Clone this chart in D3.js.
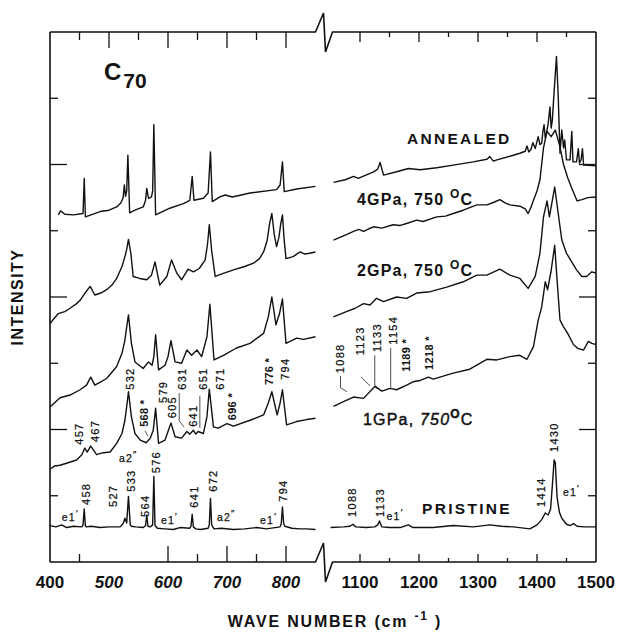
<!DOCTYPE html>
<html>
<head>
<meta charset="utf-8">
<script src="https://cdn.jsdelivr.net/npm/d3@7"></script>
<style>
  body { margin: 0; background: #fff; }
  text { font-family: "Liberation Sans", Arial, sans-serif; fill: #111; }
</style>
</head>
<body>
<script>
// spectra: [wave number, intensity (arbitrary units)]
const annealedLeft = [[414,5.24],[418,5.30],[425,5.25],[440,5.24],[456,5.26],[458,5.79],[460,5.21],[485,5.29],[500,5.31],[513,5.36],[520,5.42],[524,5.50],[526,5.69],[528,5.52],[530,5.60],[532,6.14],[535,5.27],[544,5.31],[558,5.36],[562,5.46],[564,5.64],[567,5.49],[572,5.51],[574,5.60],[576,6.60],[579,5.24],[603,5.34],[626,5.41],[637,5.46],[641,5.82],[644,5.46],[660,5.49],[668,5.57],[672,6.19],[675,5.44],[688,5.51],[697,5.54],[709,5.51],[739,5.57],[784,5.62],[790,5.69],[794,6.04],[797,5.59],[818,5.63],[850,5.67]];
const annealedRight = [[1055,5.73],[1075,5.77],[1089,5.82],[1097,5.79],[1123,5.89],[1130,5.93],[1134,6.03],[1140,5.84],[1162,5.89],[1182,5.94],[1202,5.92],[1230,5.95],[1258,5.99],[1292,6.04],[1315,6.08],[1320,6.12],[1326,6.05],[1332,6.07],[1360,6.14],[1371,6.17],[1380,6.20],[1383,6.28],[1386,6.19],[1390,6.23],[1393,6.33],[1397,6.24],[1402,6.42],[1405,6.30],[1408,6.32],[1410,6.50],[1412,6.60],[1414,6.40],[1416,6.47],[1419,6.62],[1422,6.87],[1424,6.55],[1426,6.67],[1429,7.10],[1433,7.63],[1436,7.02],[1439,6.17],[1442,6.52],[1445,6.25],[1447,6.37],[1450,6.07],[1456,6.07],[1459,6.50],[1461,6.04],[1467,6.04],[1470,6.24],[1472,6.02],[1475,6.08],[1477,6.24],[1479,5.99],[1500,5.98]];

const gpa4Left = [[400,3.60],[414,3.75],[425,3.78],[434,3.83],[445,3.90],[451,3.95],[461,4.08],[468,4.16],[476,4.03],[486,4.06],[496,4.11],[505,4.18],[513,4.28],[522,4.46],[527,4.61],[530,4.72],[533,4.87],[537,4.66],[541,4.31],[552,4.28],[564,4.26],[572,4.33],[578,4.53],[586,4.18],[598,4.31],[606,4.56],[615,4.36],[623,4.26],[634,4.42],[643,4.38],[653,4.43],[663,4.56],[667,4.80],[670,5.09],[674,4.70],[680,4.31],[695,4.36],[711,4.41],[730,4.46],[745,4.51],[755,4.58],[762,4.68],[768,4.85],[772,5.10],[776,5.26],[780,4.95],[784,4.76],[788,4.90],[791,5.10],[794,5.24],[797,4.85],[800,4.58],[812,4.61],[824,4.68],[831,4.65],[840,4.66],[850,4.68]];
const gpa4Right = [[1055,4.86],[1066,4.90],[1077,4.94],[1089,4.99],[1098,5.02],[1106,4.99],[1115,5.03],[1123,5.06],[1137,5.04],[1156,5.09],[1168,5.08],[1179,5.11],[1196,5.16],[1207,5.14],[1230,5.21],[1245,5.22],[1258,5.26],[1275,5.31],[1298,5.39],[1315,5.39],[1327,5.43],[1337,5.47],[1346,5.42],[1354,5.39],[1371,5.37],[1380,5.33],[1385,5.26],[1390,5.36],[1394,5.46],[1400,5.60],[1405,5.77],[1411,6.25],[1417,6.50],[1424,6.42],[1431,6.52],[1438,6.30],[1445,6.00],[1452,5.80],[1460,5.62],[1468,5.45],[1476,5.47],[1486,5.50],[1500,5.51]];

const gpa2Left = [[400,2.34],[417,2.48],[434,2.52],[451,2.60],[462,2.67],[469,2.79],[476,2.67],[486,2.72],[496,2.77],[513,2.95],[522,3.15],[527,3.35],[530,3.55],[533,3.73],[538,3.30],[544,3.02],[558,2.92],[567,3.02],[573,2.97],[576,3.10],[579,3.43],[584,2.90],[595,2.97],[600,3.10],[605,3.34],[612,3.02],[623,3.00],[632,3.20],[640,3.12],[649,3.20],[657,3.10],[666,3.40],[671,3.89],[678,3.05],[694,3.12],[716,3.23],[739,3.30],[762,3.45],[770,3.70],[776,4.00],[783,3.58],[789,3.75],[794,3.97],[800,3.30],[818,3.38],[830,3.36],[850,3.40]];
const gpa2Right = [[1055,3.70],[1077,3.78],[1092,3.83],[1106,3.90],[1117,3.88],[1128,3.98],[1140,3.93],[1162,4.00],[1179,3.98],[1196,4.06],[1219,4.08],[1247,4.15],[1275,4.23],[1298,4.33],[1315,4.33],[1337,4.42],[1354,4.33],[1371,4.28],[1385,4.13],[1397,4.31],[1405,4.66],[1411,5.21],[1417,5.45],[1421,5.21],[1430,5.66],[1436,5.26],[1442,4.86],[1450,4.66],[1467,4.41],[1476,4.31],[1484,4.31],[1493,4.38],[1500,4.36]];

const gpa1Left = [[400,1.40],[408,1.45],[417,1.46],[428,1.49],[445,1.54],[454,1.62],[459,1.72],[463,1.66],[469,1.75],[479,1.62],[490,1.65],[502,1.66],[513,1.79],[522,1.94],[527,2.14],[530,2.35],[533,2.57],[538,2.19],[544,1.94],[553,1.84],[563,1.80],[570,1.87],[575,1.99],[579,2.32],[584,1.79],[595,1.84],[600,1.97],[605,2.10],[612,1.89],[623,1.87],[632,1.97],[637,1.93],[643,1.99],[647,1.93],[651,1.97],[660,1.94],[666,2.19],[670,2.61],[677,2.04],[685,2.02],[700,2.09],[711,2.05],[739,2.14],[762,2.22],[770,2.40],[776,2.57],[785,2.22],[790,2.40],[794,2.60],[801,2.07],[818,2.12],[835,2.15],[850,2.17]];
const gpa1Right = [[1055,2.35],[1072,2.42],[1089,2.49],[1106,2.47],[1125,2.65],[1137,2.58],[1151,2.62],[1162,2.60],[1179,2.67],[1190,2.72],[1202,2.74],[1216,2.79],[1224,2.76],[1258,2.85],[1286,2.91],[1315,3.06],[1332,3.05],[1354,3.10],[1371,3.12],[1383,3.06],[1394,3.25],[1402,3.65],[1408,3.85],[1414,4.23],[1418,4.11],[1424,4.40],[1430,4.78],[1434,4.26],[1439,3.65],[1445,3.55],[1452,3.45],[1462,3.28],[1470,3.22],[1479,3.20],[1487,3.33],[1493,3.30],[1500,3.28]];

const pristineLeft = [[400,0.55],[410,0.53],[420,0.56],[428,0.52],[440,0.54],[454,0.53],[456,0.56],[458,0.80],[460,0.54],[462,0.53],[470,0.54],[485,0.52],[500,0.53],[519,0.53],[524,0.58],[527,0.66],[530,0.59],[533,0.99],[536,0.56],[538,0.54],[545,0.53],[558,0.52],[562,0.55],[564,0.71],[566,0.54],[570,0.53],[574,0.56],[576,1.29],[578,0.55],[582,0.51],[595,0.50],[609,0.49],[620,0.52],[637,0.51],[639,0.54],[641,0.72],[643,0.53],[647,0.50],[655,0.49],[668,0.51],[670,0.56],[672,0.96],[674,0.56],[678,0.50],[690,0.51],[711,0.49],[730,0.50],[750,0.52],[767,0.50],[790,0.53],[792,0.58],[794,0.83],[796,0.58],[798,0.54],[810,0.51],[824,0.50],[835,0.50],[850,0.49]];
const pristineRight = [[1050,0.52],[1072,0.53],[1083,0.54],[1088,0.57],[1093,0.53],[1110,0.52],[1125,0.53],[1130,0.56],[1133,0.62],[1137,0.53],[1150,0.52],[1168,0.52],[1182,0.56],[1190,0.52],[1224,0.52],[1258,0.55],[1292,0.53],[1320,0.56],[1340,0.54],[1360,0.53],[1388,0.50],[1400,0.56],[1408,0.64],[1414,0.74],[1419,0.71],[1423,0.80],[1426,1.15],[1429,1.54],[1431,1.50],[1434,0.98],[1438,0.75],[1442,0.66],[1450,0.57],[1456,0.55],[1462,0.58],[1468,0.54],[1480,0.53],[1500,0.53]];

// axis
const leftTickLabels = [400, 500, 600, 700, 800];
const rightTickLabels = [1100, 1200, 1300, 1400, 1500];
const leftTopTicks = [450, 500, 550, 600, 650, 700, 750, 800];
const leftBottomTicks = [450, 600, 650, 700, 750, 800];
const rightTicks = [1100, 1150, 1200, 1250, 1300, 1350, 1400, 1450];
const yTicks = [1, 2, 3, 4, 5, 6, 7];

// peak labels: [text, wave number, intensity at foot of label]
const pristineLeftLabels = [["458",461,0.86],["527",506,0.83],["533",537,1.06],["564",561,0.68],["576",580,1.34],["641",644,0.82],["672",676,1.06],["794",795,0.91]];
const pristineRightLabels = [["1088",1086,0.68],["1133",1134,0.68],["1414",1406,0.83],["1430",1429,1.66]];
const gpa1LeftLabels = [["457",449,1.77],["467",476,1.81],["532",536,2.60],["579",591,2.40],["605",607,2.17],["631",623,2.60],["641",642,2.04],["651",659,2.60],["671",688,2.60],["794",798,2.75]];
const gpa1LeftStarred = [["568 *",559,2.04],["696 *",708,2.14],["776 *",771,2.67]];
const gpa1RightLabels = [["1088",1067,2.85],["1123",1100,3.12],["1133",1129,3.17],["1154",1156,3.28]];
const gpa1RightStarred = [["1189 *",1178,2.87],["1218 *",1217,2.90]];

// symmetry labels: [name, primes, wave number, intensity]
const modeLeftLabels = [["e1","′",420,0.62],["a2","″",517,1.51],["e1","′",588,0.57],["a2","″",683,0.62],["e1","′",756,0.57]];
const modeRightLabels = [["e1","′",1145,0.63],["e1","′",1444,1.00]];

// leader lines
const leadersLeft = [[[619,2.55],[619,2.13],[627,2.04]], [[654,2.51],[654,2.02]], [[561,1.98],[566,1.90]]];
const leadersRight = [[[1067,2.81],[1067,2.63],[1078,2.57]], [[1102,2.79],[1117,2.66]], [[1125,3.12],[1125,2.67],[1134,2.60]], [[1152,3.23],[1152,2.63]]];

const width = 617, height = 632;
const svg = d3.select("body").append("svg")
    .attr("width", width)
    .attr("height", height);

const xLeft = d3.scaleLinear().domain([400, 850]).range([50, 315.5]);
const xRight = d3.scaleLinear().domain([1050, 1500]).range([330.5, 596]);
const y = d3.scaleLinear().domain([0, 8]).range([562, 32]);
const yTop = y(8), yBottom = y(0);

// frame
const frame = svg.append("g").attr("stroke", "#111").attr("stroke-width", 1.6).attr("fill", "none");
frame.append("line").attr("x1", xLeft(400)).attr("x2", xLeft(400)).attr("y1", yTop).attr("y2", yBottom);
frame.append("line").attr("x1", xRight(1500)).attr("x2", xRight(1500)).attr("y1", yTop).attr("y2", yBottom);
[yTop, yBottom].forEach(yy => {
  const bx = xLeft(850);
  frame.append("path").attr("d", d3.line()([
    [xLeft(400), yy], [bx, yy], [bx + 8, yy - 19], [bx + 10, yy + 20], [bx + 17, yy], [xRight(1500), yy]
  ]));
});

// ticks
const ticks = svg.append("g").attr("stroke", "#111").attr("stroke-width", 1.3);
ticks.selectAll(".tl").data(leftTopTicks).enter().append("line")
    .attr("x1", d => xLeft(d)).attr("x2", d => xLeft(d))
    .attr("y1", yTop).attr("y2", d => yTop + (d % 100 === 0 ? 16 : 8));
ticks.selectAll(".bl").data(leftBottomTicks).enter().append("line")
    .attr("x1", d => xLeft(d)).attr("x2", d => xLeft(d))
    .attr("y1", yBottom).attr("y2", d => yBottom - (d % 100 === 0 ? 16 : 8));
ticks.selectAll(".tr").data(rightTicks).enter().append("line")
    .attr("x1", d => xRight(d)).attr("x2", d => xRight(d))
    .attr("y1", yTop).attr("y2", d => yTop + (d % 100 === 0 ? 10 : 5));
ticks.selectAll(".br").data(rightTicks).enter().append("line")
    .attr("x1", d => xRight(d)).attr("x2", d => xRight(d))
    .attr("y1", yBottom).attr("y2", d => yBottom - (d % 100 === 0 ? 8 : 4));
ticks.selectAll(".yl").data(yTicks).enter().append("line")
    .attr("x1", xLeft(400)).attr("x2", d => xLeft(400) + (d % 2 === 0 ? 17 : 8))
    .attr("y1", d => y(d)).attr("y2", d => y(d));
ticks.selectAll(".yr").data(yTicks).enter().append("line")
    .attr("x1", xRight(1500)).attr("x2", d => xRight(1500) - (d % 2 === 0 ? 17 : 8))
    .attr("y1", d => y(d)).attr("y2", d => y(d));

// tick labels
svg.selectAll(".xl").data(leftTickLabels).enter().append("text")
    .attr("x", d => xLeft(d)).attr("y", 588)
    .attr("text-anchor", "middle")
    .attr("font-size", 17).attr("font-weight", "bold")
    .attr("font-style", d => d === 400 ? "normal" : "italic")
    .text(d => d);
svg.selectAll(".xr").data(rightTickLabels).enter().append("text")
    .attr("x", d => xRight(d)).attr("y", 588)
    .attr("text-anchor", "middle")
    .attr("font-size", 17).attr("font-weight", "bold")
    .text(d => d);

// spectra
const traces = [
  [annealedLeft, xLeft], [annealedRight, xRight],
  [gpa4Left, xLeft], [gpa4Right, xRight],
  [gpa2Left, xLeft], [gpa2Right, xRight],
  [gpa1Left, xLeft], [gpa1Right, xRight],
  [pristineLeft, xLeft], [pristineRight, xRight]
];
svg.append("g").selectAll("path").data(traces).enter().append("path")
    .attr("d", d => d3.line().x(p => d[1](p[0])).y(p => y(p[1]))(d[0]))
    .attr("fill", "none").attr("stroke", "#111").attr("stroke-width", 1.4)
    .attr("stroke-linejoin", "round");

// leader lines
const leaders = svg.append("g").attr("fill", "none").attr("stroke", "#222").attr("stroke-width", 0.8);
leadersLeft.forEach(l => leaders.append("path").attr("d", d3.line().x(p => xLeft(p[0])).y(p => y(p[1]))(l)));
leadersRight.forEach(l => leaders.append("path").attr("d", d3.line().x(p => xRight(p[0])).y(p => y(p[1]))(l)));

// vertical peak labels
function peakLabels(list, sx, bold) {
  svg.append("g").selectAll("text").data(list).enter().append("text")
      .attr("transform", d => `translate(${sx(d[1])},${y(d[2])}) rotate(-90)`)
      .attr("dy", "0.36em")
      .attr("font-size", 11)
      .attr("font-weight", bold ? "bold" : "normal")
      .attr("letter-spacing", bold ? 0.3 : 1.3)
      .attr("stroke", "#111").attr("stroke-width", bold ? 0 : 0.25)
      .text(d => d[0]);
}
peakLabels(pristineLeftLabels, xLeft, false);
peakLabels(pristineRightLabels, xRight, false);
peakLabels(gpa1LeftLabels, xLeft, false);
peakLabels(gpa1RightLabels, xRight, false);
peakLabels(gpa1LeftStarred, xLeft, true);
peakLabels(gpa1RightStarred, xRight, true);

function modeLabels(list, sx) {
  const t = svg.append("g").selectAll("text").data(list).enter().append("text")
      .attr("x", d => sx(d[2])).attr("y", d => y(d[3]))
      .attr("font-size", 10.5).attr("letter-spacing", 1.2)
      .attr("stroke", "#111").attr("stroke-width", 0.25);
  t.append("tspan").text(d => d[0]);
  t.append("tspan").attr("dy", -5).attr("font-size", 9).text(d => d[1]);
}
modeLabels(modeLeftLabels, xLeft);
modeLabels(modeRightLabels, xRight);

// spectrum names
svg.append("text").attr("x", 407).attr("y", 144)
    .attr("font-size", 15.5).attr("font-weight", "bold").attr("letter-spacing", 2.3)
    .text("ANNEALED");
svg.append("text").attr("x", 422).attr("y", 514)
    .attr("font-size", 15.5).attr("font-weight", "bold").attr("letter-spacing", 2.3)
    .text("PRISTINE");

function condLabel(txt, yy) {
  const t = svg.append("text").attr("x", 357).attr("y", yy)
      .attr("font-size", 16).attr("font-weight", "bold").attr("letter-spacing", 1.2);
  t.append("tspan").text(txt);
  t.append("tspan").attr("dy", -7).attr("font-size", 12).text("O");
  t.append("tspan").attr("dy", 7).text("C");
}
condLabel("4GPa, 750 ", 205);
condLabel("2GPa, 750 ", 276);

const c1 = svg.append("text").attr("x", 363).attr("y", 425)
    .attr("font-size", 16).attr("letter-spacing", 1.2)
    .attr("stroke", "#111").attr("stroke-width", 0.45);
c1.append("tspan").text("1GPa, ");
c1.append("tspan").attr("font-style", "italic").text("750");
c1.append("tspan").attr("dy", -7).attr("font-size", 12).attr("font-weight", "bold").text("O");
c1.append("tspan").attr("dy", 7).text("C");

// C70
const c70 = svg.append("text").attr("x", 104).attr("y", 80).attr("font-weight", "bold");
c70.append("tspan").attr("font-size", 24).text("C");
c70.append("tspan").attr("font-size", 21).attr("dy", 8).attr("dx", 2).text("70");

// axis titles
svg.append("text")
    .attr("transform", "translate(17,297) rotate(-90)")
    .attr("text-anchor", "middle").attr("dy", "0.36em")
    .attr("font-size", 16).attr("font-weight", "bold").attr("letter-spacing", 1.5)
    .text("INTENSITY");

const xt = svg.append("text").attr("x", 335).attr("y", 627)
    .attr("text-anchor", "middle")
    .attr("font-size", 16).attr("font-weight", "bold").attr("letter-spacing", 1.8);
xt.append("tspan").text("WAVE NUMBER (cm ");
xt.append("tspan").attr("dy", -7).attr("font-size", 12).text("-1");
xt.append("tspan").attr("dy", 7).text(" )");
</script>
</body>
</html>
